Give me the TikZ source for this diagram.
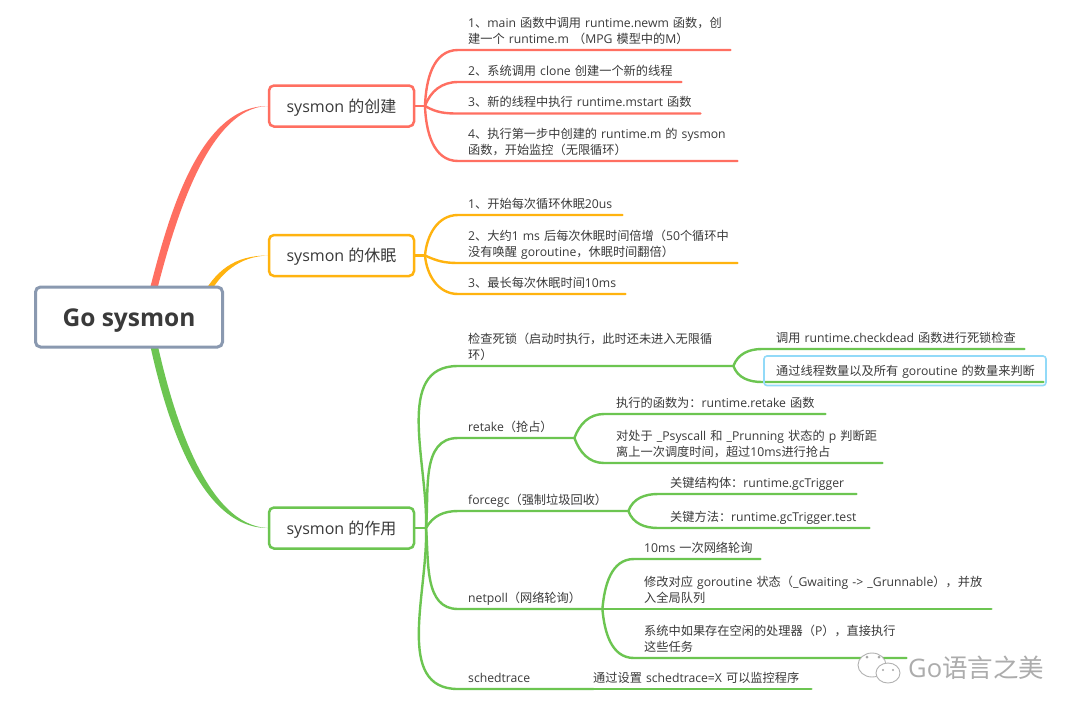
\documentclass[tikz,border=0pt]{standalone}
\usepackage{fontspec}
\setmainfont{Open Sans}
\newfontfamily\zhfont{Noto Sans CJK SC}
\newfontfamily\enfont{Open Sans}
\XeTeXinterchartokenstate=1
\newXeTeXintercharclass\zhclass
\makeatletter
\count@="3000
\loop\ifnum\count@<"303F \XeTeXcharclass\count@=\zhclass \advance\count@ by 1 \repeat
\count@="4E00
\loop\ifnum\count@<"9FFF \XeTeXcharclass\count@=\zhclass \advance\count@ by 1 \repeat
\count@="FF00
\loop\ifnum\count@<"FF5F \XeTeXcharclass\count@=\zhclass \advance\count@ by 1 \repeat
\makeatother
\XeTeXinterchartoks 0 \zhclass = {\zhfont}
\XeTeXinterchartoks 4095 \zhclass = {\zhfont}
\XeTeXinterchartoks \zhclass 0 = {\enfont}
\XeTeXinterchartoks \zhclass 4095 = {\enfont}
\usetikzlibrary{backgrounds, positioning}
\definecolor{rootline}{HTML}{8A99B0}
\definecolor{redline}{HTML}{FF6F61}
\definecolor{yellowline}{HTML}{FFB30F}
\definecolor{greenline}{HTML}{6CC551}
\definecolor{inktext}{HTML}{3A3A3A}
\definecolor{pickbox}{HTML}{92DAF8}
\tikzset{
  root/.style={draw=rootline, line width=3pt, rounded corners=5pt, fill=white, text=inktext, font=\fontsize{24.5}{30}\selectfont\bfseries, minimum width=187pt, minimum height=60pt, text height=18pt, text depth=0pt},
  topic/.style={draw=#1, line width=2.5pt, rounded corners=5pt, fill=white, text=inktext, font=\fontsize{16}{18}\selectfont, minimum width=145pt, minimum height=41pt, text height=12pt, text depth=0pt},
  leaf/.style={anchor=south west, inner sep=0pt, inner ysep=2pt, align=left, text=inktext, text width=#1, font=\fontsize{12.2}{16}\selectfont, execute at end node=\strut},
  limb/.style={line width=2.4pt, #1, line cap=round},
  bubble/.style={draw=gray!60, line width=0.9pt, fill=white},
}
\begin{document}
\begin{tikzpicture}[x=1pt, y=1pt]
\useasboundingbox (0, 0) rectangle (1080, -716);
\node[root] (go) at (129, -317) {Go sysmon};
\node[topic=redline] (make) at (341.5, -106) {sysmon 的创建};
\node[topic=yellowline] (rest) at (341.5, -255.5) {sysmon 的休眠};
\node[topic=greenline] (work) at (341.5, -528) {sysmon 的作用};
% hubs
\coordinate (makehub) at (425, -106);
\coordinate (resthub) at (425, -255.5);
\coordinate (workhub) at (426, -528);
\begin{scope}[on background layer]
\fill[white] (0, 0) rectangle (1080, -716);
\fill[redline] (make.west) .. controls (195, -106) and (165, -230) .. (147, -300) -- (154.5, -300) .. controls (172, -230) and (206, -107.5) .. (make.west);
\fill[yellowline] (rest.west) .. controls (235, -255.5) and (215, -270) .. (200, -300) -- (206, -300) .. controls (220, -272) and (240, -256.5) .. (rest.west);
\fill[greenline] (work.west) .. controls (200, -528) and (165, -420) .. (147, -330) -- (154.5, -330) .. controls (173, -420) and (208, -525.5) .. (work.west);
\end{scope}
% creation
\node[leaf=262pt] (m1) at (468, -50) {1、main 函数中调用 runtime.newm 函数，创\\建一个 runtime.m （MPG 模型中的M）};
\node[leaf=213pt] (m2) at (468, -82) {2、系统调用 clone 创建一个新的线程};
\node[leaf=232pt] (m3) at (468, -113.5) {3、新的线程中执行 runtime.mstart 函数};
\node[leaf=269pt] (m4) at (468, -161) {4、执行第一步中创建的 runtime.m 的 sysmon\\函数，开始监控（无限循环）};
\draw[limb=redline] (make.east) -- (makehub);
\draw[limb=redline] (makehub) to[out=88, in=180] ([xshift=-10pt]m1.south west) -- (m1.south east);
\draw[limb=redline] (makehub) to[out=70, in=180] ([xshift=-10pt]m2.south west) -- (m2.south east);
\draw[limb=redline] (makehub) to[out=-30, in=180] ([xshift=-10pt]m3.south west) -- (m3.south east);
\draw[limb=redline] (makehub) to[out=-88, in=180] ([xshift=-10pt]m4.south west) -- (m4.south east);
% sleep
\node[leaf=154pt] (r1) at (468, -215) {1、开始每次循环休眠20us};
\node[leaf=269pt] (r2) at (468, -263) {2、大约1 ms 后每次休眠时间倍增（50个循环中\\没有唤醒 goroutine，休眠时间翻倍）};
\node[leaf=157pt] (r3) at (468, -294) {3、最长每次休眠时间10ms};
\draw[limb=yellowline] (rest.east) -- (resthub);
\draw[limb=yellowline] (resthub) to[out=85, in=180] ([xshift=-10pt]r1.south west) -- (r1.south east);
\draw[limb=yellowline] (resthub) to[out=-25, in=180] ([xshift=-10pt]r2.south west) -- (r2.south east);
\draw[limb=yellowline] (resthub) to[out=-85, in=180] ([xshift=-10pt]r3.south west) -- (r3.south east);
% work
\node[leaf=265pt] (dead) at (468, -366) {检查死锁（启动时执行，此时还未进入无限循\\环）};
\node[leaf=106pt] (grab) at (468, -438) {retake（抢占）};
\node[leaf=160pt] (gc) at (468, -511) {forcegc（强制垃圾回收）};
\node[leaf=134pt] (poll) at (468, -609) {netpoll（网络轮询）};
\node[leaf=125pt] (trace) at (468, -689) {schedtrace};
\draw[limb=greenline] (work.east) -- (workhub);
\draw[limb=greenline] (workhub) to[out=88, in=180] ([xshift=-10pt]dead.south west) -- (dead.south east);
\draw[limb=greenline] (workhub) to[out=85, in=180] ([xshift=-10pt]grab.south west) -- (grab.south east);
\draw[limb=greenline] (workhub) to[out=60, in=180] ([xshift=-10pt]gc.south west) -- (gc.south east);
\draw[limb=greenline] (workhub) to[out=-85, in=180] ([xshift=-10pt]poll.south west) -- (poll.south east);
\draw[limb=greenline] (workhub) to[out=-88, in=180] ([xshift=-10pt]trace.south west) -- (trace.south east);
\node[leaf=248pt] (d1) at (776, -349) {调用 runtime.checkdead 函数进行死锁检查};
\node[leaf=267pt] (d2) at (776, -382) {通过线程数量以及所有 goroutine 的数量来判断};
\draw[limb=greenline] (dead.south east) to[out=70, in=180] ([xshift=-14pt]d1.south west) -- (d1.south east);
\draw[limb=greenline] (dead.south east) to[out=-70, in=180] ([xshift=-14pt]d2.south west) -- (d2.south east);
\draw[pickbox, line width=1.6pt, rounded corners=3pt] (764, -356) rectangle (1046, -385.5);
\node[leaf=209pt] (g1) at (616, -414) {执行的函数为：runtime.retake 函数};
\node[leaf=266pt] (g2) at (616, -463) {对处于 \_Psyscall 和 \_Prunning 状态的 p 判断距\\离上一次调度时间，超过10ms进行抢占};
\draw[limb=greenline] (grab.south east) to[out=70, in=180] ([xshift=-12pt]g1.south west) -- (g1.south east);
\draw[limb=greenline] (grab.south east) to[out=-70, in=180] ([xshift=-12pt]g2.south west) -- (g2.south east);
\node[leaf=186pt] (c1) at (670, -494) {关键结构体：runtime.gcTrigger};
\node[leaf=199pt] (c2) at (670, -528) {关键方法：runtime.gcTrigger.test};
\draw[limb=greenline] (gc.south east) to[out=70, in=180] ([xshift=-12pt]c1.south west) -- (c1.south east);
\draw[limb=greenline] (gc.south east) to[out=-70, in=180] ([xshift=-12pt]c2.south west) -- (c2.south east);
\node[leaf=116pt] (p1) at (644, -559) {10ms 一次网络轮询};
\node[leaf=347pt] (p2) at (644, -609) {修改对应 goroutine 状态（\_Gwaiting -> \_Grunnable），并放\\入全局队列};
\node[leaf=262pt] (p3) at (644, -658) {系统中如果存在空闲的处理器（P），直接执行\\这些任务};
\draw[limb=greenline] (poll.south east) to[out=85, in=180] ([xshift=-10pt]p1.south west) -- (p1.south east);
\draw[limb=greenline] (poll.south east) -- (p2.south west) -- (p2.south east);
\draw[limb=greenline] (poll.south east) to[out=-85, in=180] ([xshift=-10pt]p3.south west) -- (p3.south east);
\node[leaf=218pt] (t1) at (593, -689) {通过设置 schedtrace=X  可以监控程序};
\draw[limb=greenline] (trace.south east) -- (t1.south west) -- (t1.south east);
% watermark
\draw[bubble] (872, -665) ellipse [x radius=14, y radius=12];
\draw[bubble] (888, -673) ellipse [x radius=12, y radius=10];
\fill[gray!70] (867, -657) circle [radius=1.5] (879, -657) circle [radius=1.5] (883, -670) circle [radius=1.2] (893, -670) circle [radius=1.2];
\node[text=gray!65, font=\fontsize{25.5}{30}\selectfont, anchor=west, inner sep=0pt] (wm) at (908, -668) {Go语言之美};
\end{tikzpicture}
\end{document}
